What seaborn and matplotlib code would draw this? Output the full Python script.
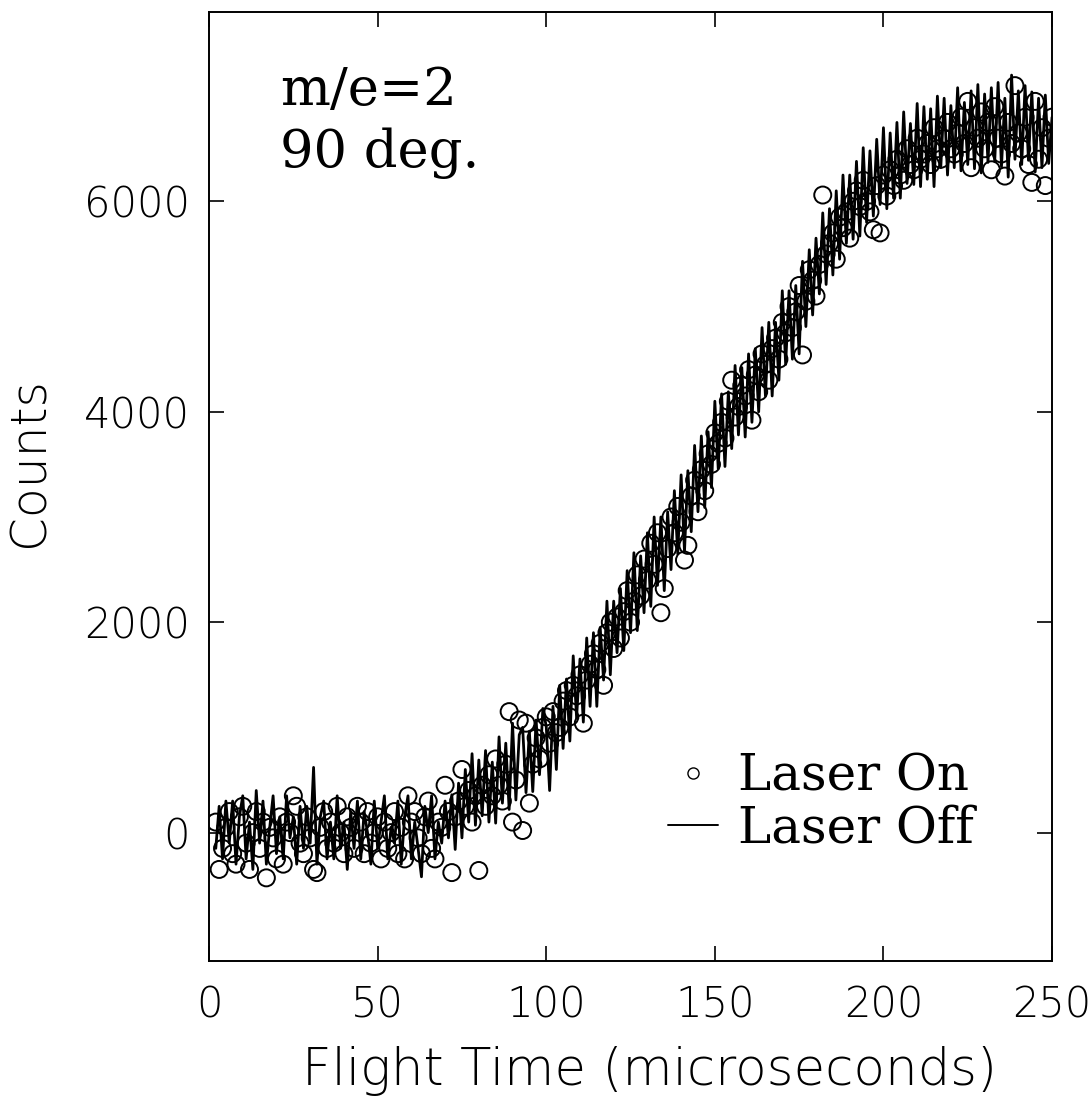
import numpy as np
import pandas as pd
import matplotlib
matplotlib.use("Agg")
import matplotlib.pyplot as plt
import seaborn as sns
from matplotlib.lines import Line2D

# flight time bins (microseconds), one reading per bin
flight_time = np.arange(2, 251)

# Laser Off counts (solid line)
laser_off = [
    -150, 250, -250, 300, -100, 300, -300, 150, 350, -250,
    100, -350, 400, -100, 300, -300, 50, 350, -200, 150,
    -250, 350, -50, 150, -300, 250, -150, 250, -100, 620,
    -300, 150, 300, -250, 100, -250, 350, -150, 100, -350,
    200, -150, 300, -250, 200, 0, -300, 300, -150, 100,
    350, -250, 50, -100, 300, -300, 150, 350, -250, 100,
    -150, -420, 250, 0, 350, -250, 100, -100, 300, -50,
    360, -160, 470, -50, 600, 100, 750, 70, 690, 160,
    780, 100, 670, 90, 910, 280, 850, 220, 1040, 310,
    930, 1000, 380, 960, 390, 1070, 550, 1180, 1010, 400,
    1200, 600, 1400, 800, 1460, 870, 1680, 1090, 1650, 1050,
    1850, 1200, 1900, 1200, 1950, 1450, 2200, 1500, 2200, 1710,
    2320, 1730, 2490, 1900, 2660, 1920, 2630, 2090, 2850, 2150,
    3000, 2350, 3000, 2300, 3050, 2500, 3250, 2650, 3400, 2670,
    3440, 2860, 3680, 3050, 3770, 3090, 3810, 3280, 4100, 3460,
    4170, 3480, 4190, 3650, 4440, 3780, 4420, 3760, 4550, 3900,
    4600, 4000, 4800, 4150, 4850, 4150, 4850, 4300, 5150, 4450,
    5150, 4500, 5200, 4550, 5430, 4810, 5540, 4920, 5650, 5120,
    5890, 5210, 5930, 5300, 6100, 5450, 6250, 5600, 6250, 5640,
    6380, 5670, 6510, 5800, 6480, 5860, 6590, 5970, 6700, 5930,
    6650, 6030, 6750, 6030, 6850, 6170, 6740, 6160, 6930, 6140,
    6900, 6210, 6880, 6140, 7000, 6320, 6980, 6250, 6910, 6320,
    7080, 6290, 6940, 6350, 7050, 6310, 7110, 6270, 7020, 6370,
    7080, 6380, 7130, 6330, 6980, 6230, 7200, 6400, 7050, 6350,
    7100, 6390, 7040, 6280, 6980, 6320, 7010, 6360, 6800,
]

# Laser On counts (open circles)
laser_on = [
    100, -350, -150, 50, 200, -200, -300, 150, 250, -100,
    -350, 0, 200, -150, 100, -430, 50, -50, -250, 150,
    -300, 100, 0, 350, 250, -100, -200, 150, -50, -350,
    -380, 50, 200, -150, 100, -100, 250, 0, -200, 150,
    50, -150, 250, 100, -200, 200, -100, 0, 150, -250,
    100, -150, 0, 200, -200, 50, -250, 350, 100, 200,
    -50, -200, 150, 300, -150, -250, 100, 50, 450, 200,
    -380, 150, 300, 600, 250, 400, 100, 350, -360, 450,
    250, 550, 350, 700, 450, 300, 650, 1150, 100, 500,
    1070, 20, 1040, 280, 650, 900, 700, 1000, 1100, 850,
    1150, 950, 1000, 1250, 1350, 1100, 1400, 1300, 1500, 1040,
    1450, 1600, 1700, 1550, 1800, 1400, 1900, 2000, 1750, 2050,
    1850, 2100, 2300, 2000, 2200, 2450, 2250, 2600, 2400, 2750,
    2550, 2850, 2090, 2320, 2700, 3000, 2850, 3100, 2950, 2590,
    2730, 3200, 3350, 3050, 3450, 3250, 3600, 3500, 3800, 3700,
    3900, 3750, 4100, 4300, 3950, 4050, 4250, 4150, 4400, 3920,
    4350, 4190, 4550, 4450, 4300, 4600, 4700, 4500, 4850, 4750,
    5000, 4800, 4950, 5200, 4540, 5050, 5350, 5250, 5100, 5400,
    6060, 5500, 5600, 5700, 5450, 5850, 5750, 5900, 5650, 6000,
    6100, 5950, 6200, 6000, 5900, 5730, 6150, 5700, 6250, 6050,
    6300, 6150, 6400, 6250, 6200, 6500, 6350, 6300, 6600, 6400,
    6450, 6550, 6350, 6700, 6500, 6400, 6600, 6750, 6500, 6450,
    6650, 6800, 6550, 6950, 6320, 6700, 6600, 6850, 6500, 6750,
    6300, 6900, 6600, 6450, 6240, 6750, 6550, 7100, 6650, 6500,
    6800, 6350, 6180, 6950, 6400, 6700, 6150, 6600, 6800,
]

x_ticks = [0, 50, 100, 150, 200, 250]
y_ticks = [0, 2000, 4000, 6000]

df = pd.DataFrame({"time": flight_time, "off": laser_off, "on": laser_on})

sns.set_theme(style="ticks")
plt.rcParams["font.family"] = ["DejaVu Sans"]
plt.rcParams["text.color"] = "black"
plt.rcParams["axes.labelcolor"] = "black"
sans = {"family": "DejaVu Sans", "weight": "light"}

fig = plt.figure(figsize=(10.91, 11.08), dpi=100)
ax = fig.add_axes([0.1916, 0.1327, 0.7727, 0.8565])

sns.lineplot(data=df, x="time", y="off", color="black", linewidth=2.0,
             estimator=None, sort=False, ax=ax)
sns.scatterplot(data=df, x="time", y="on", marker="o", s=150,
                facecolor="none", edgecolor="black", linewidth=1.4, ax=ax)

ax.set_xlim(0, 250)
ax.set_ylim(-1220, 7800)
ax.set_xticks(x_ticks)
ax.set_yticks(y_ticks)
ax.tick_params(direction="in", length=11, width=1.2, top=True, right=True,
               colors="black", labelsize=30)
ax.tick_params(axis="x", pad=17)
ax.tick_params(axis="y", pad=14)
for lab in ax.get_xticklabels() + ax.get_yticklabels():
    lab.set_fontfamily(sans["family"])
    lab.set_fontweight(sans["weight"])
for sp in ax.spines.values():
    sp.set_linewidth(1.4)
    sp.set_color("black")

ax.set_xlabel("Flight Time (microseconds)", fontsize=37, **sans)
ax.set_ylabel("Counts", fontsize=35, **sans)
ax.xaxis.set_label_coords(0.523, -0.09)
ax.yaxis.set_label_coords(-0.185, 0.526)

ax.text(0.084, 0.902, "m/e=2", transform=ax.transAxes, fontsize=38,
        family="DejaVu Serif", va="baseline")
ax.text(0.084, 0.837, "90 deg.", transform=ax.transAxes, fontsize=38,
        family="DejaVu Serif", va="baseline")

handles = [
    Line2D([], [], marker="o", linestyle="none", markerfacecolor="none",
           markeredgecolor="black", markersize=8, markeredgewidth=1.0),
    Line2D([], [], color="black", linewidth=1.4),
]
ax.legend(handles, ["Laser On", "Laser Off"], loc="lower right",
          bbox_to_anchor=(0.937, 0.087), frameon=False, borderpad=0,
          prop={"family": "DejaVu Serif", "size": 36},
          handlelength=1.0, handletextpad=0.4, labelspacing=0.05)

fig.savefig("out.png", dpi=100, facecolor="white")
